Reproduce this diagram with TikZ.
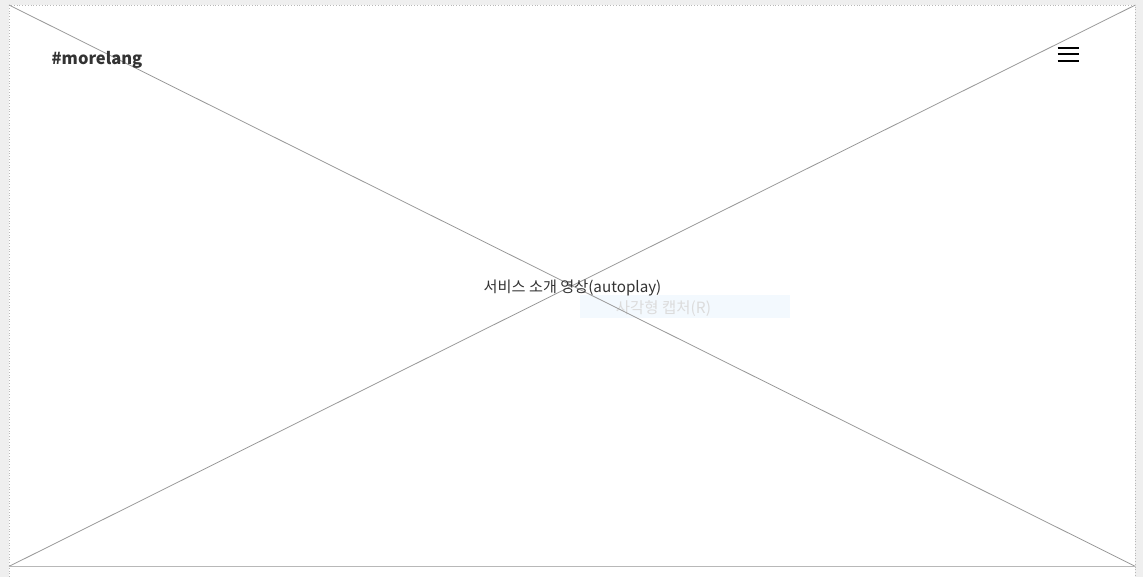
\documentclass[tikz,border=0pt]{standalone}
\usepackage{fontspec}
\setmainfont{Noto Sans CJK KR}
\usetikzlibrary{positioning}
\definecolor{pagebg}{HTML}{EFEFEF}
\definecolor{wire}{HTML}{999999}
\definecolor{ink}{HTML}{333333}
\definecolor{capfill}{HTML}{F3F9FE}
\definecolor{captext}{HTML}{DCDCDC}
\tikzset{
	diag/.style={draw=wire, line width=0.8pt},
	edge/.style={draw=wire!70, dotted, line width=0.8pt},
	bar/.style={draw=black, line width=2pt},
	logo/.style={font={\fontsize{16.5}{20}\selectfont\bfseries}, text=ink},
	caption/.style={font={\fontsize{15.2}{18}\selectfont}, text=ink},
	capture/.style={fill=capfill, minimum width=210pt, minimum height=23pt, inner sep=0pt},
	shottext/.style={text=captext, font={\fontsize{15.5}{18}\selectfont}}
}
\begin{document}
\begin{tikzpicture}[x=1pt, y=-1pt]
	\fill[pagebg] (0,0) rectangle (1143,577);
	\useasboundingbox (0,0) rectangle (1143,577);
	\fill[white] (9,5) rectangle (1135,577);
	\draw[edge] (9,577) -- (9,5) -- (1135,5) -- (1135,577);
	% capture overlay, under the lines
	\node[capture] (shot) at (685,306.5) {};
	\node[shottext] (shotlabel) at (663.5,309) {사각형 캡처(R)};
	% video placeholder
	\node[minimum width=1126pt, minimum height=561pt, inner sep=0pt, anchor=north west] (frame) at (9,5) {};
	\draw[diag] (frame.north west) -- (frame.south east);
	\draw[diag] (frame.south west) -- (frame.north east);
	\draw[draw=wire!70, line width=1.5pt] (frame.south west) -- (frame.south east);
	% header
	\node[logo] (brand) at (97,60) {\#morelang};
	\coordinate (menu) at (1068,54.5);
	\foreach \dy in {-6.5,0,6.5}
		\draw[bar] ([xshift=-10.5pt, yshift=\dy pt]menu) -- ([xshift=10.5pt, yshift=\dy pt]menu);
	% label
	\node[caption] (video) at (572.5,287.5) {서비스 소개 영상(autoplay)};
\end{tikzpicture}
\end{document}
